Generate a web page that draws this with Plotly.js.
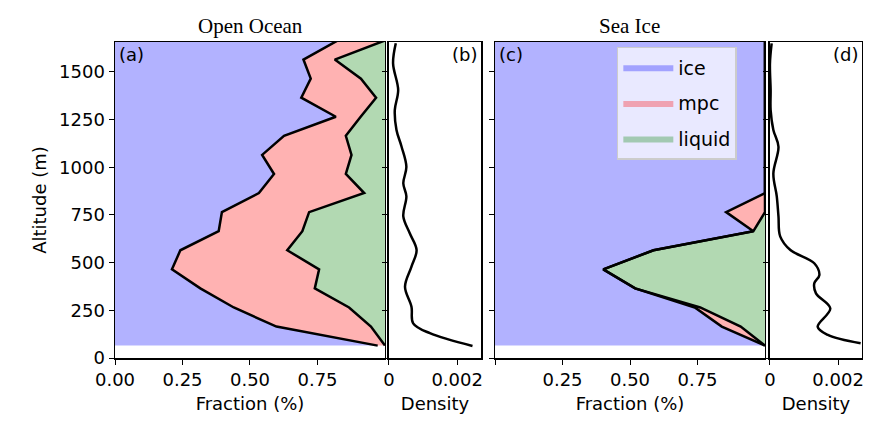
<!DOCTYPE html>
<html>
<head>
<meta charset="utf-8">
<script src="https://cdn.plot.ly/plotly-3.0.1.min.js"></script>
<style>body{margin:0;background:#fff}#chart{width:870px;height:426px}</style>
</head>
<body>
<div id="chart"></div>
<script>
// altitude levels (m)
const alt = [65,165,265,365,465,565,665,765,865,965,1065,1165,1265,1365,1465,1565,1665];

// Open ocean: cumulative fractions
const ooIce    = [0.973,0.598,0.44,0.316,0.211,0.242,0.384,0.396,0.533,0.589,0.545,0.626,0.818,0.69,0.725,0.698,0.825];
const ooIceMpc = [1.0,0.948,0.867,0.74,0.756,0.638,0.694,0.719,0.923,0.855,0.876,0.855,0.91,0.967,0.911,0.814,1.0];

// Sea ice: cumulative fractions
const siIce    = [1.0,0.84,0.74,0.519,0.401,0.587,0.957,0.856,1.0,1,1,1,1,1,1,1,1];
const siIceMpc = [1.0,0.91,0.76,0.519,0.401,0.587,0.957,1.0,1.0,1,1,1,1,1,1,1,1];

// density profiles
const ooDensAlt = [63,130,182,269,374,479,566,654,743,848,916,1003,1108,1196,1300,1405,1545,1650];
const ooDens    = [0.00245,0.0012,0.00071,0.00066,0.00047,0.00066,0.00081,0.00061,0.00042,0.00051,0.00042,0.00051,0.00037,0.00022,0.00017,0.00027,0.00012,0.0002];
const siDensAlt = [77,121,164,260,339,392,435,497,566,638,743,848,968,1108,1196,1300,1405,1545,1650];
const siDens    = [0.00266,0.0017,0.0014,0.00177,0.00135,0.0013,0.00145,0.0013,0.0006,0.0003,0.00025,0.0002,0.0001,0.00025,0.0001,0.00002,0.00002,0.0,0.00005];

const ones = alt.map(() => 1);
const C_ICE = 'rgba(0,0,255,0.3)', C_MPC = 'rgba(255,0,0,0.3)', C_LIQ = 'rgba(0,128,0,0.3)';

function panel(xa, ya, ice, iceMpc, legend) {
  const base = { y: alt, xaxis: xa, yaxis: ya, type: 'scatter', mode: 'lines', hoverinfo: 'skip' };
  return [
    Object.assign({}, base, { x: ice, fill: 'tozerox', fillcolor: C_ICE, line: { width: 0 }, name: 'ice', showlegend: legend, legendgroup: 'ice' }),
    Object.assign({}, base, { x: iceMpc, fill: 'tonextx', fillcolor: C_MPC, line: { width: 0 }, name: 'mpc', showlegend: legend, legendgroup: 'mpc' }),
    Object.assign({}, base, { x: ones, fill: 'tonextx', fillcolor: C_LIQ, line: { width: 0 }, name: 'liquid', showlegend: legend, legendgroup: 'liq' }),
  ];
}
function outline(xa, ya, xs) {
  return { x: xs, y: alt, xaxis: xa, yaxis: ya, type: 'scatter', mode: 'lines', line: { color: 'black', width: 2.5 }, showlegend: false, hoverinfo: 'skip' };
}

const traces = [
  ...panel('x', 'y', ooIce, ooIceMpc, false),
  ...panel('x3', 'y3', siIce, siIceMpc, true),
  outline('x', 'y', ooIce), outline('x', 'y', ooIceMpc),
  outline('x3', 'y3', siIce), outline('x3', 'y3', siIceMpc),
  { x: ooDens, y: ooDensAlt, xaxis: 'x2', yaxis: 'y2', type: 'scatter', mode: 'lines', line: { color: 'black', width: 2.5, shape: 'spline' }, showlegend: false },
  { x: siDens, y: siDensAlt, xaxis: 'x4', yaxis: 'y4', type: 'scatter', mode: 'lines', line: { color: 'black', width: 2.5, shape: 'spline' }, showlegend: false },
];

const tf = { family: 'DejaVu Sans', size: 18, color: 'black' };
function ax(dom, range, extra) {
  return Object.assign({ domain: dom, range: range, showline: true, mirror: true, linecolor: 'black', linewidth: 1.5,
    ticks: 'outside', ticklen: 5, tickcolor: 'black', showgrid: false, zeroline: false, tickfont: tf }, extra);
}
const yr = [0, 1657];
const yd = [0.1596, 0.9014];
const yt = [0, 250, 500, 750, 1000, 1250, 1500];
const layout = {
  width: 870, height: 426,
  margin: { l: 0, r: 0, t: 0, b: 0 },
  paper_bgcolor: 'white', plot_bgcolor: 'white',
  xaxis:  ax([0.1322, 0.4425], [0, 1], { anchor: 'y', tickvals: [0, 0.25, 0.5, 0.75], ticktext: ['0.00', '0.25', '0.50', '0.75'], title: { text: 'Fraction (%)', font: tf, standoff: 8 } }),
  xaxis2: ax([0.4471, 0.5529], [0, 0.0027], { anchor: 'y2', tickvals: [0, 0.002], ticktext: ['0', '0.002'], title: { text: 'Density', font: tf, standoff: 8 } }),
  xaxis3: ax([0.569, 0.8793], [0, 1], { anchor: 'y3', tickvals: [0, 0.25, 0.5, 0.75], ticktext: ['', '0.25', '0.50', '0.75'], title: { text: 'Fraction (%)', font: tf, standoff: 8 } }),
  xaxis4: ax([0.885, 0.9908], [0, 0.0027], { anchor: 'y4', tickvals: [0, 0.002], ticktext: ['0', '0.002'], title: { text: 'Density', font: tf, standoff: 8 } }),
  yaxis:  ax(yd, yr, { anchor: 'x', tickvals: yt, title: { text: 'Altitude (m)', font: tf, standoff: 8 } }),
  yaxis2: ax(yd, yr, { anchor: 'x2', tickvals: yt, showticklabels: false }),
  yaxis3: ax(yd, yr, { anchor: 'x3', tickvals: yt, showticklabels: false }),
  yaxis4: ax(yd, yr, { anchor: 'x4', tickvals: yt, showticklabels: false }),
  legend: { x: 0.709, y: 0.89, xanchor: 'left', yanchor: 'top', bgcolor: 'rgba(242,242,255,0.85)', bordercolor: '#cccccc', borderwidth: 1.5,
    font: { family: 'DejaVu Sans', size: 19, color: 'black' }, tracegroupgap: 8, itemwidth: 50 },
  annotations: [
    { text: 'Open Ocean', xref: 'paper', yref: 'paper', x: 0.2874, y: 0.905, xanchor: 'center', yanchor: 'bottom', showarrow: false, font: { family: 'Liberation Serif', size: 21, color: 'black' } },
    { text: 'Sea Ice', xref: 'paper', yref: 'paper', x: 0.7241, y: 0.905, xanchor: 'center', yanchor: 'bottom', showarrow: false, font: { family: 'Liberation Serif', size: 21, color: 'black' } },
    { text: '(a)', xref: 'paper', yref: 'paper', x: 0.1345, y: 0.902, xanchor: 'left', yanchor: 'top', showarrow: false, font: tf },
    { text: '(b)', xref: 'paper', yref: 'paper', x: 0.551, y: 0.902, xanchor: 'right', yanchor: 'top', showarrow: false, font: tf },
    { text: '(c)', xref: 'paper', yref: 'paper', x: 0.5713, y: 0.902, xanchor: 'left', yanchor: 'top', showarrow: false, font: tf },
    { text: '(d)', xref: 'paper', yref: 'paper', x: 0.989, y: 0.902, xanchor: 'right', yanchor: 'top', showarrow: false, font: tf },
  ],
};
Plotly.newPlot('chart', traces, layout, { displayModeBar: false, staticPlot: true });
</script>
</body>
</html>
